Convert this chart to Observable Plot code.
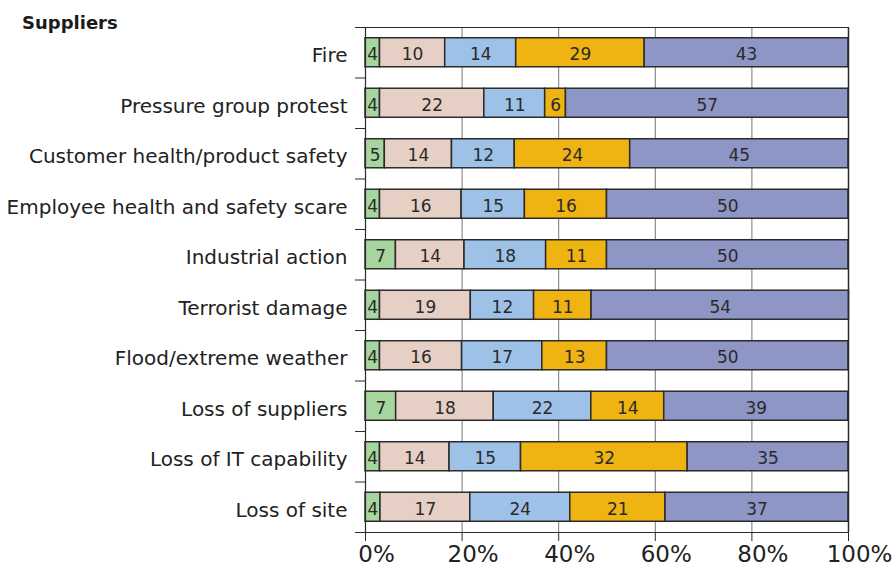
<!DOCTYPE html>
<html>
<head>
<meta charset="utf-8">
<script src="https://cdn.jsdelivr.net/npm/d3@7"></script>
<script src="https://cdn.jsdelivr.net/npm/@observablehq/plot@0.6"></script>
<style>
  html, body { margin: 0; padding: 0; background: #fff; }
  #wrap { position: relative; width: 896px; height: 575px; }
  #title { position: absolute; left: 22px; top: 14px; font-family: "DejaVu Sans", sans-serif; font-weight: bold; font-size: 18px; line-height: 1; color: #1a1a1a; }
</style>
</head>
<body>
<div id="wrap"><div id="title">Suppliers</div></div>
<script>
// Categories, top to bottom
const categories = [
  "Fire",
  "Pressure group protest",
  "Customer health/product safety",
  "Employee health and safety scare",
  "Industrial action",
  "Terrorist damage",
  "Flood/extreme weather",
  "Loss of suppliers",
  "Loss of IT capability",
  "Loss of site"
];

const seriesNames = ["Series 1", "Series 2", "Series 3", "Series 4", "Series 5"];
const seriesColors = ["#a6d59e", "#e6cfc4", "#9dc1e7", "#efb312", "#8e96c5"];

// Printed labels (per series, per category)
const labels1 = [4, 4, 5, 4, 7, 4, 4, 7, 4, 4];
const labels2 = [10, 22, 14, 16, 14, 19, 16, 18, 14, 17];
const labels3 = [14, 11, 12, 15, 18, 12, 17, 22, 15, 24];
const labels4 = [29, 6, 24, 16, 11, 11, 13, 14, 32, 21];
const labels5 = [43, 57, 45, 50, 50, 54, 50, 39, 35, 37];

// Bar shares (%) as drawn in the picture
const shares1 = [3.0, 3.0, 4.0, 3.0, 6.3, 3.0, 3.0, 6.35, 3.0, 3.1];
const shares2 = [13.5, 21.6, 13.9, 16.9, 14.2, 18.8, 17.0, 20.2, 14.4, 18.6];
const shares3 = [14.7, 12.6, 13.0, 13.1, 16.9, 13.1, 16.6, 20.2, 14.8, 20.7];
const shares4 = [26.6, 4.3, 23.9, 17.0, 12.6, 11.9, 13.4, 15.1, 34.5, 19.7];
const shares5 = [42.2, 58.5, 45.2, 50.0, 50.0, 53.3, 50.0, 38.1, 33.3, 37.9];

const xTicks = [0, 20, 40, 60, 80, 100];

const labelSets = [labels1, labels2, labels3, labels4, labels5];
const shareSets = [shares1, shares2, shares3, shares4, shares5];
const rows = [];
seriesNames.forEach((s, si) => {
  categories.forEach((c, ci) => {
    rows.push({cat: c, series: s, share: shareSets[si][ci], label: labelSets[si][ci]});
  });
});

const W = 896, H = 575;
const mTop = 27, mBottom = 43, mLeft = 365, mRight = 48;
const step = (H - mTop - mBottom) / categories.length;
const font = "DejaVu Sans";

const chart = Plot.plot({
  width: W,
  height: H,
  marginTop: mTop,
  marginBottom: mBottom,
  marginLeft: mLeft,
  marginRight: mRight,
  style: {fontFamily: font, background: "#fff", color: "#222"},
  x: {domain: [0, 100], label: null},
  y: {domain: categories, paddingInner: 0.425, paddingOuter: 0.2125, round: false, label: null},
  color: {domain: seriesNames, range: seriesColors},
  marks: [
    Plot.ruleX(xTicks.filter(d => d > 0 && d < 100), {x: d => d, stroke: "#777", strokeWidth: 1}),
    Plot.barX(rows, Plot.stackX({x: "share", y: "cat", fill: "series", stroke: "#2b2b2b", strokeWidth: 1.5})),
    Plot.text(rows, Plot.stackX({x: "share", y: "cat", z: "series", text: "label", fill: "#2a2a2a", fontSize: 17, dy: 2, fontFamily: font})),
    Plot.ruleX([0], {x: d => d, stroke: "#2b2b2b", strokeWidth: 1.2}),
    Plot.ruleX([100], {x: d => d, stroke: "#2b2b2b", strokeWidth: 1.5}),
    Plot.ruleY(categories.slice(1), {y: d => d, x1: 0, x2: 0, insetLeft: -10, dy: -step / 2, stroke: "#2b2b2b", strokeWidth: 1}),
    Plot.ruleY([categories[0]], {y: d => d, insetLeft: -10, dy: -step / 2, stroke: "#2b2b2b", strokeWidth: 1.2}),
    Plot.ruleY([categories[categories.length - 1]], {y: d => d, insetLeft: -10, dy: step / 2, stroke: "#2b2b2b", strokeWidth: 1.2}),
    Plot.axisY({tickSize: 0, tickPadding: 18, fontSize: 20, dy: 3, fill: "#222", label: null}),
    Plot.axisX({ticks: xTicks, tickSize: 9, tickFormat: () => "", stroke: "#2b2b2b", label: null}),
    Plot.text(xTicks, {x: d => d, text: d => `${d}%`, frameAnchor: "bottom", dy: 29.5, dx: 11, fontSize: 23, fill: "#222", fontFamily: font})
  ]
});
document.getElementById("wrap").appendChild(chart);
</script>
</body>
</html>
